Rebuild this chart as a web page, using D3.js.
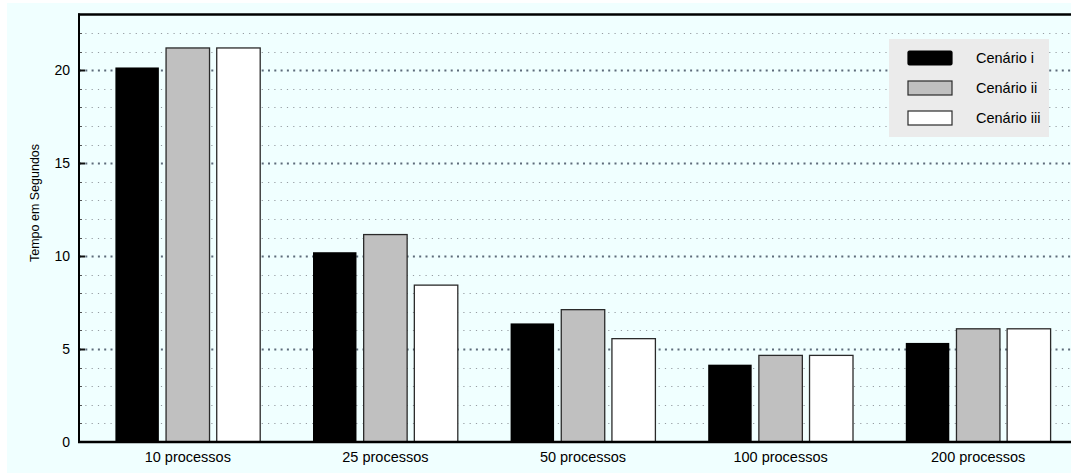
<!DOCTYPE html>
<html>
<head>
<meta charset="utf-8">
<script src="https://cdn.jsdelivr.net/npm/d3@7"></script>
<style>
  html, body { margin: 0; padding: 0; background: #ffffff; }
  svg { display: block; font-family: "Liberation Sans", Arial, Helvetica, sans-serif; }
</style>
</head>
<body>
<svg id="chart" width="1071" height="473"></svg>
<script>
// Execution time per process count, for three scenarios
const categories = ["10 processos", "25 processos", "50 processos", "100 processos", "200 processos"];
const series = ["Cenário i", "Cenário ii", "Cenário iii"];
const cenarioI   = [20.15, 10.21, 6.38, 4.16, 5.33];
const cenarioII  = [21.2, 11.16, 7.12, 4.66, 6.09];
const cenarioIII = [21.2, 8.44, 5.56, 4.66, 6.09];
const yTicks = [0, 5, 10, 15, 20];
const yTitle = "Tempo em Segundos";

const seriesValues = [cenarioI, cenarioII, cenarioIII];
const fills = ["#000000", "#c0c0c0", "#ffffff"];
const strokes = ["#000000", "#2a2a2a", "#2a2a2a"];

const W = 1071, H = 473;
const plot = { left: 79, top: 14.5, right: 1071, bottom: 442 };

const svg = d3.select("#chart");

// backdrop
svg.append("rect").attr("x", 7).attr("y", 3).attr("width", W - 7).attr("height", H - 3)
  .attr("fill", "#f0ffff");

const x = d3.scaleBand().domain(categories).range([89, 89 + 5 * 197.6]).padding(0);
const xInner = d3.scaleBand().domain(series).range([-76, 76]).paddingInner(0.142).paddingOuter(0.071);
const y = d3.scaleLinear().domain([0, 23]).range([plot.bottom, plot.top]);

// grid: every unit, heavier on multiples of 5
const gridVals = d3.range(1, 23);
const grid = svg.append("g");
grid.selectAll("line").data(gridVals).join("line")
  .attr("x1", plot.left).attr("x2", plot.right)
  .attr("y1", d => Math.round(y(d)) + 0.5).attr("y2", d => Math.round(y(d)) + 0.5)
  .attr("stroke", d => d % 5 === 0 ? "#5d6b7a" : "#969ca2")
  .attr("stroke-width", d => d % 5 === 0 ? 2 : 1)
  .attr("stroke-dasharray", d => d % 5 === 0 ? "2,4.3" : "1.2,5.1");

// left tick marks
const ticks = svg.append("g");
ticks.selectAll("line").data(d3.range(1, 23)).join("line")
  .attr("x1", plot.left).attr("x2", d => d % 5 === 0 ? plot.left + 6 : plot.left + 3)
  .attr("y1", d => Math.round(y(d)) + 0.5).attr("y2", d => Math.round(y(d)) + 0.5)
  .attr("stroke", d => d % 5 === 0 ? "#111" : "#555")
  .attr("stroke-width", d => d % 5 === 0 ? 2 : 1);

// bars
const groups = svg.append("g").selectAll("g").data(categories).join("g")
  .attr("transform", c => `translate(${x(c) + x.bandwidth() / 2},0)`);
groups.selectAll("rect")
  .data((c, ci) => series.map((s, si) => ({ s, si, v: seriesValues[si][ci] })))
  .join("rect")
  .attr("x", d => xInner(d.s))
  .attr("width", xInner.bandwidth())
  .attr("y", d => y(d.v))
  .attr("height", d => y(0) - y(d.v))
  .attr("fill", d => fills[d.si])
  .attr("stroke", d => strokes[d.si])
  .attr("stroke-width", d => d.si === 0 ? 0 : 1.3);

// frame: left, top, bottom
svg.append("line").attr("x1", plot.left).attr("x2", plot.left).attr("y1", plot.top - 1).attr("y2", plot.bottom + 1)
  .attr("stroke", "#000").attr("stroke-width", 2);
svg.append("line").attr("x1", plot.left - 1).attr("x2", plot.right).attr("y1", plot.top).attr("y2", plot.top)
  .attr("stroke", "#000").attr("stroke-width", 2.5);
svg.append("line").attr("x1", plot.left - 1).attr("x2", plot.right).attr("y1", plot.bottom).attr("y2", plot.bottom)
  .attr("stroke", "#000").attr("stroke-width", 2.5);

// y axis labels
const yAxis = d3.axisLeft(y).tickValues(yTicks).tickSize(0).tickPadding(9);
const yg = svg.append("g").attr("transform", `translate(${plot.left},0)`).call(yAxis);
yg.select(".domain").remove();
yg.selectAll("text").attr("font-size", 14).attr("fill", "#000")
  .attr("font-family", "'Liberation Sans', Arial, sans-serif");

// x axis labels
const xAxis = d3.axisBottom(x).tickSize(0).tickPadding(10);
const xg = svg.append("g").attr("transform", `translate(0,${plot.bottom})`).call(xAxis);
xg.select(".domain").remove();
xg.selectAll("text").attr("font-size", 14.5).attr("fill", "#000")
  .attr("font-family", "'Liberation Sans', Arial, sans-serif");

// y title
svg.append("text").attr("transform", "translate(38.5,203) rotate(-90)")
  .attr("text-anchor", "middle").attr("font-size", 12.5).attr("fill", "#000").text(yTitle);

// legend
const lg = svg.append("g").attr("transform", "translate(889,39)");
lg.append("rect").attr("width", 160).attr("height", 98).attr("fill", "#ebebeb");
const items = lg.selectAll("g.item").data(series).join("g").attr("class", "item")
  .attr("transform", (d, i) => `translate(0,${12 + i * 30})`);
items.append("rect").attr("x", 19).attr("y", 0).attr("width", 44).attr("height", 14)
  .attr("rx", (d, i) => i === 0 ? 1.5 : 0)
  .attr("fill", (d, i) => fills[i]).attr("stroke", (d, i) => strokes[i]).attr("stroke-width", 1.2);
items.append("text").attr("x", 87).attr("y", 7).attr("dy", "0.36em")
  .attr("font-size", 14.5).attr("fill", "#000").text(d => d);
</script>
</body>
</html>
